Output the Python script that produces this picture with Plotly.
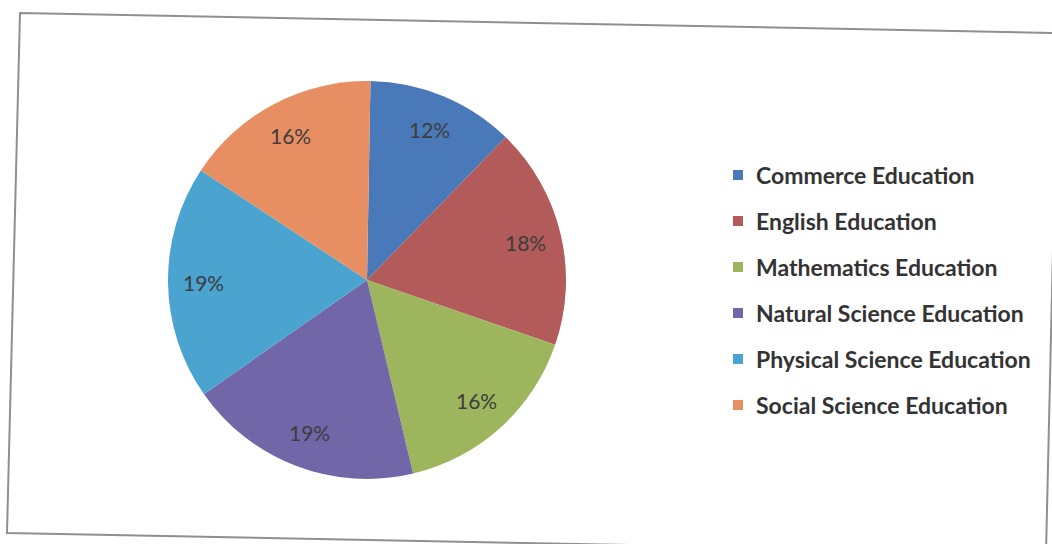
import math
import plotly.graph_objects as go

# Share of students by programme
programmes = [
    "Commerce Education",
    "English Education",
    "Mathematics Education",
    "Natural Science Education",
    "Physical Science Education",
    "Social Science Education",
]
shares = [12, 18, 16, 19, 19, 16]
slice_colors = ["#4A79B9", "#B35B5A", "#9DB65E", "#7066A8", "#4BA3CF", "#E78F62"]

W, H = 1052, 544


def px(x):
    return x / W


def py(y):
    return 1 - y / H


# Pie placement in pixels
cx, cy, R = 367, 280, 199
start_deg = 1  # clockwise from 12 o'clock

fig = go.Figure()

fig.add_trace(go.Pie(
    labels=programmes,
    values=shares,
    sort=False,
    direction="clockwise",
    rotation=start_deg,
    marker=dict(colors=slice_colors, line=dict(width=0)),
    textinfo="none",
    domain=dict(x=[px(cx - R), px(cx + R)], y=[py(cy + R), py(cy - R)]),
    showlegend=False,
    hoverinfo="label+percent",
))

# Percentage labels placed along each slice's mid-angle, near the rim
annotations = []
total = sum(shares)
cum = 0
for v in shares:
    mid = start_deg + 360 * (cum + v / 2) / total
    cum += v
    a = math.radians(mid)
    lx = cx + 0.82 * R * math.sin(a)
    ly = cy - 0.82 * R * math.cos(a)
    annotations.append(dict(xref="paper", yref="paper", x=px(lx), y=py(ly),
                            xanchor="center", yanchor="middle", showarrow=False,
                            text=f"{round(100 * v / total)}%",
                            font=dict(family="Lato", size=21, color="#3d3d3d")))

# Chart frame (slightly skewed, as scanned)
frame = [(20, 13), (1058, 33), (1046, 553), (7, 533)]
path = "M " + " L ".join(f"{px(x)},{py(y)}" for x, y in frame) + " Z"
shapes = [dict(type="path", xref="paper", yref="paper", path=path,
               line=dict(color="#8f8f8f", width=2), fillcolor="rgba(0,0,0,0)")]

# Legend: coloured squares and labels
leg_x, leg_y0, leg_dy = 738, 175, 46
for i, (name, col) in enumerate(zip(programmes, slice_colors)):
    yc = leg_y0 + i * leg_dy
    shapes.append(dict(type="rect", xref="paper", yref="paper",
                       x0=px(leg_x - 5), x1=px(leg_x + 5),
                       y0=py(yc + 5), y1=py(yc - 5),
                       fillcolor=col, line=dict(width=0)))
    annotations.append(dict(xref="paper", yref="paper", x=px(leg_x + 16), y=py(yc),
                            xanchor="left", yanchor="middle", showarrow=False,
                            text=f"<b>{name}</b>",
                            font=dict(family="Lato", size=23, color="#333333")))

fig.update_layout(
    width=W, height=H,
    margin=dict(l=0, r=0, t=0, b=0),
    paper_bgcolor="white",
    plot_bgcolor="white",
    shapes=shapes,
    annotations=annotations,
)

fig.write_html("out.html")
